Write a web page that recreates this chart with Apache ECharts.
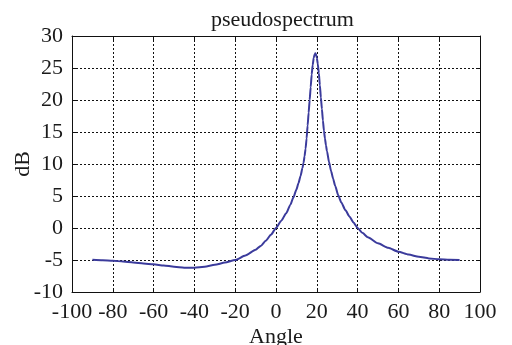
<!DOCTYPE html>
<html>
<head>
<meta charset="utf-8">
<script src="https://cdn.jsdelivr.net/npm/echarts@6/dist/echarts.min.js"></script>
<style>html,body{margin:0;padding:0;background:#fff;}#c{width:512px;height:345px;}</style>
</head>
<body>
<div id="c"></div>
<script>
var angles = [-90,-85,-80,-75,-70,-65,-60,-55,-50,-45,-40,-35,-30,-25,-20,-15,-10,-7.5,-5,-2.5,0,2.5,5,7,8.5,10,11,12,13,13.5,14,14.5,15,15.5,16,16.5,17,17.5,18,18.5,19,19.3,19.6,20,20.5,21,21.5,22,22.5,23,23.5,24,24.5,25,26,27,28,29,30.5,32,34,36,38,40,42.5,45,50,55,60,65,70,75,80,85,90];
var dB = [-4.95,-5.02,-5.1,-5.25,-5.4,-5.55,-5.68,-5.85,-6.05,-6.2,-6.2,-6.05,-5.75,-5.4,-5.0,-4.3,-3.4,-2.8,-2.0,-1.05,0,1.1,2.3,3.6,4.75,6.0,7.0,8.1,9.4,10.2,11.2,12.4,14.0,16.0,18,20,22,24,25.5,26.6,27.2,27.3,27.2,26.6,25.6,24.2,22.3,20.4,18.6,16.8,15.2,14,12.9,12,10.3,8.9,7.7,6.6,5.1,4.0,2.8,1.8,0.85,0,-0.8,-1.45,-2.4,-3.1,-3.7,-4.15,-4.5,-4.75,-4.9,-4.97,-5.0];
var xTicks = [-100,-80,-60,-40,-20,0,20,40,60,80,100];
var yTicks = [-10,-5,0,5,10,15,20,25,30];

var pts = angles.map(function(a,i){return [a,dB[i]];});
var font = 'Liberation Serif';
var tc = '#1a1a1a';
var chart = echarts.init(document.getElementById('c'));
chart.setOption({
  animation:false,
  backgroundColor:'#fff',
  title:{text:'pseudospectrum',left:206,top:4,textStyle:{fontFamily:font,fontSize:22,fontWeight:'normal',color:tc}},
  grid:{left:72,right:32,top:36,bottom:53,containLabel:false,outerBoundsMode:'none'},
  xAxis:[{
    type:'value',min:xTicks[0],max:xTicks[xTicks.length-1],interval:20,
    name:'Angle',nameLocation:'middle',nameGap:34,nameMoveOverlap:false,
    nameTextStyle:{fontFamily:font,fontSize:22,color:tc},
    axisLine:{onZero:false,lineStyle:{color:'#111',width:1}},
    axisTick:{inside:true,length:4,lineStyle:{color:'#111'}},
    axisLabel:{fontFamily:font,fontSize:22,color:tc,margin:9},
    splitLine:{show:true,lineStyle:{color:'#111',type:[2,2],width:1}}
  },{
    type:'value',position:'top',min:-100,max:100,interval:20,
    axisLine:{show:true,onZero:false,lineStyle:{color:'#111',width:1}},
    axisTick:{inside:true,length:4,lineStyle:{color:'#111'}},
    axisLabel:{show:false},splitLine:{show:false}
  }],
  yAxis:[{
    type:'value',min:yTicks[0],max:yTicks[yTicks.length-1],interval:5,
    name:'dB',nameLocation:'middle',nameGap:38,nameRotate:90,nameMoveOverlap:false,
    nameTextStyle:{fontFamily:font,fontSize:22,color:tc},
    axisLine:{show:true,onZero:false,lineStyle:{color:'#111',width:1}},
    axisTick:{show:true,inside:true,length:4,lineStyle:{color:'#111'}},
    axisLabel:{fontFamily:font,fontSize:22,color:tc,margin:9},
    splitLine:{show:true,lineStyle:{color:'#111',type:[2,2],width:1}}
  },{
    type:'value',position:'right',min:-10,max:30,interval:5,
    axisLine:{show:true,onZero:false,lineStyle:{color:'#111',width:1}},
    axisTick:{show:true,inside:true,length:4,lineStyle:{color:'#111'}},
    axisLabel:{show:false},splitLine:{show:false}
  }],
  series:[{
    type:'line',data:pts,showSymbol:false,smooth:0.2,smoothMonotone:'x',
    lineStyle:{color:'#3b3b9c',width:2},
    xAxisIndex:0,yAxisIndex:0
  }]
});
</script>
</body>
</html>
